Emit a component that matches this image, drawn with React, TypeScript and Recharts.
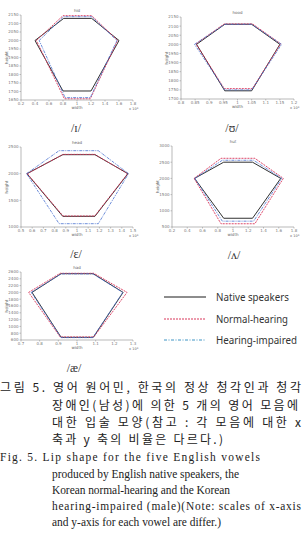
import { LineChart, Line, XAxis, YAxis } from "recharts";

type Pt = [number, number];

// hexagon vertices: left, top-left, top-right, right, bottom-right, bottom-left
const ihNative: Pt[] = [[0.4, 2000], [0.81, 2130], [1.21, 2130], [1.6, 2000], [1.2, 1703], [0.8, 1703]];
const ihNormal: Pt[] = [[0.42, 2000], [0.8, 2146], [1.21, 2146], [1.58, 2000], [1.19, 1657], [0.82, 1657]];
const ihImpaired: Pt[] = [[0.46, 2000], [0.81, 2140], [1.21, 2140], [1.57, 2000], [1.19, 1664], [0.83, 1664]];
const ihXTicks = [0.2, 0.4, 0.6, 0.8, 1, 1.2, 1.4, 1.6, 1.8];
const ihYTicks = [1650, 1700, 1750, 1800, 1850, 1900, 1950, 2000, 2050, 2100, 2150];

const uhNative: Pt[] = [[0.855, 2000], [0.955, 2110], [1.05, 2110], [1.15, 2000], [1.05, 1745], [0.955, 1745]];
const uhNormal: Pt[] = [[0.853, 2003], [0.953, 2112], [1.053, 2112], [1.153, 2003], [1.053, 1757], [0.953, 1757]];
const uhImpaired: Pt[] = [[0.848, 2000], [0.955, 2110], [1.05, 2110], [1.156, 2000], [1.05, 1750], [0.955, 1750]];
const uhXTicks = [0.8, 0.85, 0.9, 0.95, 1, 1.05, 1.1, 1.15, 1.2];
const uhYTicks = [1700, 1750, 1800, 1850, 1900, 1950, 2000, 2050, 2100, 2150];

const ehNative: Pt[] = [[0.553, 2000], [0.873, 2356], [1.16, 2356], [1.455, 2000], [1.16, 1200], [0.873, 1200]];
const ehNormal: Pt[] = [[0.556, 2000], [0.876, 2362], [1.158, 2362], [1.452, 2000], [1.158, 1206], [0.876, 1206]];
const ehImpaired: Pt[] = [[0.55, 2000], [0.84, 2431], [1.19, 2431], [1.46, 2000], [1.19, 1062], [0.84, 1062]];
const ehXTicks = [0.5, 0.6, 0.7, 0.8, 0.9, 1, 1.1, 1.2, 1.3, 1.4, 1.5];
const ehYTicks = [1000, 1500, 2000, 2500];

const ahNative: Pt[] = [[0.496, 2000], [0.878, 2500], [1.256, 2500], [1.626, 2000], [1.256, 770], [0.878, 770]];
const ahNormal: Pt[] = [[0.49, 2000], [0.843, 2620], [1.287, 2620], [1.66, 2000], [1.287, 600], [0.843, 600]];
const ahImpaired: Pt[] = [[0.5, 2000], [0.86, 2560], [1.27, 2560], [1.64, 2000], [1.27, 680], [0.86, 680]];
const ahXTicks = [0.2, 0.4, 0.6, 0.8, 1, 1.2, 1.4, 1.6, 1.8];
const ahYTicks = [500, 1000, 1500, 2000, 2500, 3000];

const aeNative: Pt[] = [[0.759, 2000], [0.915, 2550], [1.087, 2550], [1.247, 2000], [1.087, 678], [0.915, 678]];
const aeNormal: Pt[] = [[0.741, 2000], [0.91, 2562], [1.09, 2562], [1.268, 2000], [1.09, 690], [0.91, 690]];
const aeImpaired: Pt[] = [[0.755, 2000], [0.915, 2545], [1.085, 2545], [1.245, 2000], [1.085, 670], [0.915, 670]];
const aeXTicks = [0.7, 0.8, 0.9, 1, 1.1, 1.2, 1.3];
const aeYTicks = [600, 800, 1000, 1200, 1400, 1600, 1800, 2000, 2200, 2400, 2600];

const legendNames = ["Native speakers", "Normal-hearing", "Hearing-impaired"];

const NATIVE = "#1a1a1a";
const NORMAL = "#d9365a";
const IMPAIRED = "#4a72d0";
const AXIS = "#8a8a8a";
const SQUEEZE = 0.88; // caption serif glyphs are narrow in the scan

const toData = (pts: Pt[]) => [...pts, pts[0]].map(([x, y]) => ({ x, y }));

interface MiniProps {
  left: number;
  top: number;
  w: number;
  h: number;
  xTicks: number[];
  yTicks: number[];
  series: Pt[][];
}

function MiniChart({ left, top, w, h, xTicks, yTicks, series }: MiniProps) {
  const tick = { fontSize: 4, fill: "#777", fontFamily: "DejaVu Sans" };
  return (
    <div style={{ position: "absolute", left: left - 20, top: top - 10 }}>
      <LineChart width={w + 32} height={h + 24} margin={{ top: 10, right: 12, bottom: 0, left: 0 }}>
        <XAxis
          type="number"
          dataKey="x"
          domain={[xTicks[0], xTicks[xTicks.length - 1]]}
          ticks={xTicks}
          interval={0}
          allowDataOverflow
          height={14}
          tickSize={1.5}
          tickMargin={1}
          tick={tick}
          axisLine={{ stroke: AXIS, strokeWidth: 0.6 }}
          tickLine={{ stroke: AXIS, strokeWidth: 0.5 }}
        />
        <YAxis
          type="number"
          dataKey="y"
          domain={[yTicks[0], yTicks[yTicks.length - 1]]}
          ticks={yTicks}
          interval={0}
          allowDataOverflow
          width={20}
          tickSize={1.5}
          tickMargin={1}
          tick={tick}
          axisLine={{ stroke: AXIS, strokeWidth: 0.6 }}
          tickLine={{ stroke: AXIS, strokeWidth: 0.5 }}
        />
        <Line data={toData(series[0])} dataKey="y" stroke={NATIVE} strokeWidth={0.9} dot={false} isAnimationActive={false} />
        <Line data={toData(series[1])} dataKey="y" stroke={NORMAL} strokeWidth={0.9} strokeDasharray="2 1" dot={false} isAnimationActive={false} />
        <Line data={toData(series[2])} dataKey="y" stroke={IMPAIRED} strokeWidth={0.8} strokeDasharray="3 1 1 1" dot={false} isAnimationActive={false} />
      </LineChart>
    </div>
  );
}

const charts = [
  { left: 21, top: 15, w: 112, h: 85, xTicks: ihXTicks, yTicks: ihYTicks, series: [ihNative, ihNormal, ihImpaired], title: "hid", ipa: "/ɪ/", ipaX: 76, ipaY: 128 },
  { left: 181, top: 17, w: 113, h: 82, xTicks: uhXTicks, yTicks: uhYTicks, series: [uhNative, uhNormal, uhImpaired], title: "hood", ipa: "/ʊ/", ipaX: 232, ipaY: 128 },
  { left: 21, top: 147, w: 112, h: 80, xTicks: ehXTicks, yTicks: ehYTicks, series: [ehNative, ehNormal, ehImpaired], title: "head", ipa: "/ɛ/", ipaX: 76, ipaY: 254 },
  { left: 172, top: 146, w: 122, h: 81, xTicks: ahXTicks, yTicks: ahYTicks, series: [ahNative, ahNormal, ahImpaired], title: "hut", ipa: "/ʌ/", ipaX: 234, ipaY: 255 },
  { left: 21, top: 272, w: 112, h: 68, xTicks: aeXTicks, yTicks: aeYTicks, series: [aeNative, aeNormal, aeImpaired], title: "had", ipa: "/æ/", ipaX: 74, ipaY: 368 },
];

const koLines = [
  { x: 0, y: 392, len: 301, t: "그림 5. 영어 원어민, 한국의 정상 청각인과 청각" },
  { x: 52, y: 410, len: 246, t: "장애인(남성)에 의한 5 개의 영어 모음에" },
  { x: 52, y: 427, len: 249, t: "대한 입술 모양(참고 : 각 모음에 대한 x" },
  { x: 52, y: 444, len: 171, t: "축과 y 축의 비율은 다르다.)" },
];

// len 0 = last line of the paragraph, not justified
const enLines = [
  { x: 0, y: 461, len: 260, t: "Fig. 5. Lip shape for the five English vowels" },
  { x: 52, y: 477.5, len: 187, t: "produced by English native speakers, the" },
  { x: 52, y: 494, len: 178, t: "Korean normal-hearing and the Korean" },
  { x: 52, y: 510, len: 249, t: "hearing-impaired (male)(Note: scales of x-axis" },
  { x: 52, y: 526, len: 0, t: "and y-axis for each vowel are differ.)" },
];

const legendRows = [
  { y: 297, stroke: NATIVE, dash: undefined as string | undefined, len: 73 },
  { y: 319, stroke: NORMAL, dash: "2 1", len: 72 },
  { y: 340, stroke: "#3f94c4", dash: "3 1.5 1 1.5", len: 81 },
];

export default function App() {
  return (
    <div style={{ position: "absolute", left: 0, top: 0, width: 302, height: 536, background: "#fff", overflow: "hidden" }}>
      {charts.map((c, i) => (
        <MiniChart key={i} left={c.left} top={c.top} w={c.w} h={c.h} xTicks={c.xTicks} yTicks={c.yTicks} series={c.series} />
      ))}
      <svg width={302} height={536} style={{ position: "absolute", left: 0, top: 0, pointerEvents: "none" }}>
        {charts.map((c, i) => (
          <g key={i} fontFamily="DejaVu Sans" fill="#666">
            <text x={c.left + c.w / 2} y={c.top - 3} fontSize={4} textAnchor="middle">{c.title}</text>
            <text x={c.left + c.w / 2} y={c.top + c.h + 9} fontSize={4} textAnchor="middle">width</text>
            <text x={c.left + c.w - 4} y={c.top + c.h + 10} fontSize={3.5}>x 10<tspan fontSize={2.5} dy={-1.5}>4</tspan></text>
            <text
              x={c.left - 13}
              y={c.top + c.h / 2}
              fontSize={4}
              textAnchor="middle"
              transform={`rotate(-90 ${c.left - 13} ${c.top + c.h / 2})`}
            >
              height
            </text>
            <text x={c.ipaX} y={c.ipaY + 4} fontSize={12} textAnchor="middle" fill="#333" fontFamily="Liberation Serif">
              {c.ipa}
            </text>
          </g>
        ))}
        {legendRows.map((r, i) => (
          <g key={i}>
            <line x1={164} x2={206} y1={r.y} y2={r.y} stroke={r.stroke} strokeWidth={1} strokeDasharray={r.dash} />
            <text x={216} y={r.y + 3.5} fontSize={10.5} fill="#333" fontFamily="Noto Sans" textLength={r.len} lengthAdjust="spacingAndGlyphs">
              {legendNames[i]}
            </text>
          </g>
        ))}
        {koLines.map((l, i) => (
          <text key={i} x={l.x} y={l.y} fontSize={12} fill="#222" fontFamily="Noto Sans CJK KR" textLength={l.len} lengthAdjust="spacing">
            {l.t}
          </text>
        ))}
        {enLines.map((l, i) => (
          <g key={i} transform={`translate(${l.x} ${l.y}) scale(${SQUEEZE} 1)`}>
            <text
              x={0}
              y={0}
              fontSize={13}
              fill="#222"
              fontFamily="Liberation Serif"
              textLength={l.len ? l.len / SQUEEZE : undefined}
              lengthAdjust="spacing"
            >
              {l.t}
            </text>
          </g>
        ))}
      </svg>
    </div>
  );
}
